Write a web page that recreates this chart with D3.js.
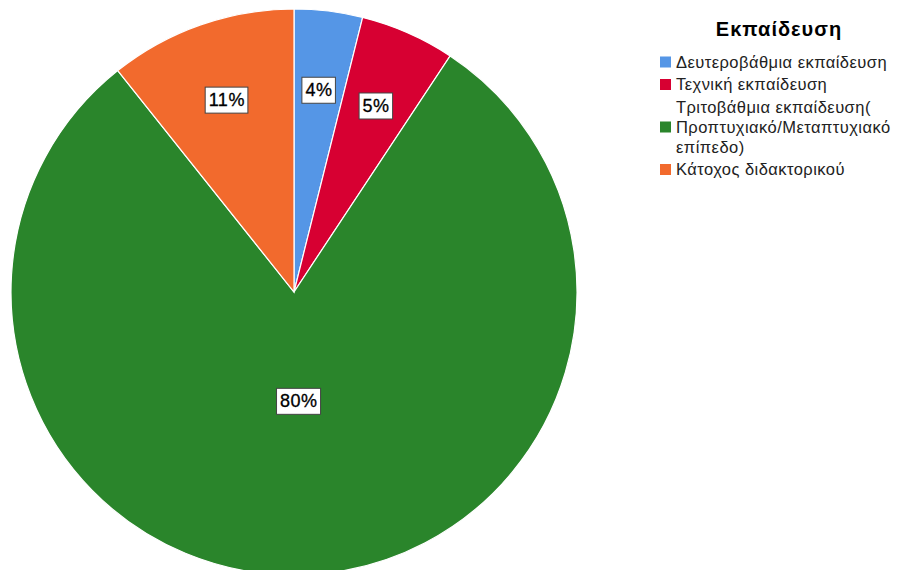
<!DOCTYPE html>
<html>
<head>
<meta charset="utf-8">
<script src="https://cdn.jsdelivr.net/npm/d3@7"></script>
<style>
  body { margin: 0; background: #fff; }
  svg { display: block; font-family: "Liberation Sans", Arial, sans-serif; }
</style>
</head>
<body>
<div id="chart"></div>
<script>
// chart data
var categories = [
  "Δευτεροβάθμια εκπαίδευση",
  "Τεχνική εκπαίδευση",
  "Τριτοβάθμια εκπαίδευση(\nΠροπτυχιακό/Μεταπτυχιακό\nεπίπεδο)",
  "Κάτοχος διδακτορικού"
];
var values = [3.9, 5.4, 80.0, 10.7];
var valueLabels = ["4%", "5%", "80%", "11%"];
var colors = ["#5596e6", "#d70032", "#2a852b", "#f26a2d"];
var legendTitle = "Εκπαίδευση";

var width = 898, height = 570;
var cx = 294, cy = 292, radius = 283;

var svg = d3.select("#chart").append("svg")
    .attr("width", width)
    .attr("height", height);

var data = categories.map(function(c, i) {
  return { name: c, value: values[i], label: valueLabels[i], color: colors[i] };
});

var pie = d3.pie().sort(null).value(function(d) { return d.value; });
var arc = d3.arc().innerRadius(0).outerRadius(radius);

var g = svg.append("g").attr("transform", "translate(" + cx + "," + cy + ")");

var arcs = pie(data);

g.selectAll("path.slice")
  .data(arcs)
  .enter().append("path")
    .attr("class", "slice")
    .attr("d", arc)
    .attr("fill", function(d) { return d.data.color; })
    .attr("stroke", "#ffffff")
    .attr("stroke-width", 1.2);

// value labels in boxes
var labels = g.selectAll("g.lbl")
  .data(arcs)
  .enter().append("g")
    .attr("class", "lbl")
    .attr("transform", function(d) {
      var frac = (d.endAngle - d.startAngle) / (2 * Math.PI);
      var r = frac > 0.5 ? radius * 0.385 : radius * 0.72;
      var a = (d.startAngle + d.endAngle) / 2;
      return "translate(" + (Math.sin(a) * r) + "," + (-Math.cos(a) * r) + ")";
    });

labels.append("text")
    .attr("text-anchor", "middle")
    .attr("dy", "0.36em")
    .attr("font-size", 18)
    .attr("letter-spacing", 0.5)
    .attr("fill", "#000")
    .attr("stroke", "#000")
    .attr("stroke-width", 0.3)
    .text(function(d) { return d.data.label; });

labels.each(function() {
  var grp = d3.select(this);
  var bb = grp.select("text").node().getBBox();
  grp.insert("rect", "text")
    .attr("x", bb.x - 3.5)
    .attr("y", bb.y - 3)
    .attr("width", bb.width + 6.5)
    .attr("height", bb.height + 6)
    .attr("fill", "#fff")
    .attr("stroke", "#444")
    .attr("stroke-width", 1);
});

// legend
svg.append("text")
    .attr("x", 779)
    .attr("y", 36)
    .attr("text-anchor", "middle")
    .attr("font-size", 20)
    .attr("font-weight", "bold")
    .attr("letter-spacing", 1)
    .attr("fill", "#000")
    .text(legendTitle);

var linePitch = 20, itemGap = 22.5;
var y = 62;
data.forEach(function(d) {
  var lines = d.name.split("\n");
  var mid = y + (lines.length - 1) / 2 * linePitch;
  svg.append("rect")
    .attr("x", 660)
    .attr("y", mid - 5.5)
    .attr("width", 11)
    .attr("height", 11)
    .attr("fill", d.color);
  var t = svg.append("text")
    .attr("font-size", 16.5)
    .attr("letter-spacing", 0.45)
    .attr("fill", "#222");
  lines.forEach(function(l, i) {
    t.append("tspan")
      .attr("x", 676)
      .attr("y", y + i * linePitch)
      .attr("dy", "0.36em")
      .text(l);
  });
  y += (lines.length - 1) * linePitch + itemGap;
});
</script>
</body>
</html>
